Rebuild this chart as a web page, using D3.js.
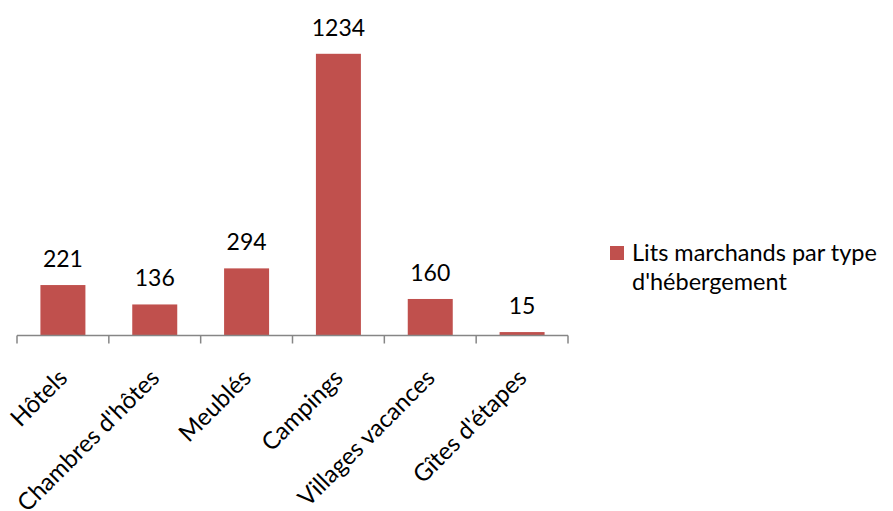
<!DOCTYPE html>
<html><head><meta charset="utf-8">
<script src="https://cdn.jsdelivr.net/npm/d3@7"></script>
<style>body{margin:0;background:#fff}svg{display:block}text{font-family:Lato,"Open Sans",sans-serif;fill:#000}</style>
</head><body>
<svg id="c" width="893" height="511"></svg>
<script>
const categories = ["Hôtels","Chambres d'hôtes","Meublés","Campings","Villages vacances","Gîtes d'étapes"];
const values = [221,136,294,1234,160,15];
const seriesName = ["Lits marchands par type", "d'hébergement"];
const color = "#C0504D";

const svg = d3.select("#c");
const x = d3.scaleBand().domain(categories).range([17,568]).paddingInner(0.51).paddingOuter(0.255);
const y = d3.scaleLinear().domain([0,1400]).range([335.5,15.9]);

svg.selectAll("rect.bar").data(values).join("rect")
  .attr("class","bar")
  .attr("x",(d,i)=>x(categories[i]))
  .attr("width",x.bandwidth())
  .attr("y",d=>y(d))
  .attr("height",d=>y(0)-y(d))
  .attr("fill",color);

svg.selectAll("text.val").data(values).join("text")
  .attr("class","val")
  .attr("x",(d,i)=>x(categories[i])+x.bandwidth()/2)
  .attr("y",d=>y(d)-18)
  .attr("text-anchor","middle")
  .style("font-size","23px")
  .text(d=>d);

// axis
const step = x.step();
const x0 = x.range()[0];
const g = svg.append("g");
g.append("line").attr("x1",x0).attr("x2",x.range()[1]).attr("y1",y(0)).attr("y2",y(0))
  .attr("stroke","#868686").attr("stroke-width",1.5);
d3.range(categories.length+1).forEach(i=>{
  g.append("line").attr("x1",x0+i*step).attr("x2",x0+i*step)
    .attr("y1",y(0)).attr("y2",y(0)+8).attr("stroke","#868686").attr("stroke-width",1.5);
});
svg.selectAll("text.cat").data(categories).join("text")
  .attr("class","cat")
  .attr("text-anchor","end")
  .style("font-size","24px")
  .attr("transform",d=>`translate(${x(d)+x.bandwidth()/2+6},${y(0)+44}) rotate(-45)`)
  .text(d=>d);

// legend
svg.append("rect").attr("x",610).attr("y",246).attr("width",14).attr("height",14).attr("fill",color);
svg.append("text").attr("x",632).attr("y",261).selectAll("tspan").data(seriesName).join("tspan")
  .attr("x",632).attr("dy",(d,i)=>i?29:0).style("font-size","23.5px").text(d=>d);
</script>
</body></html>
